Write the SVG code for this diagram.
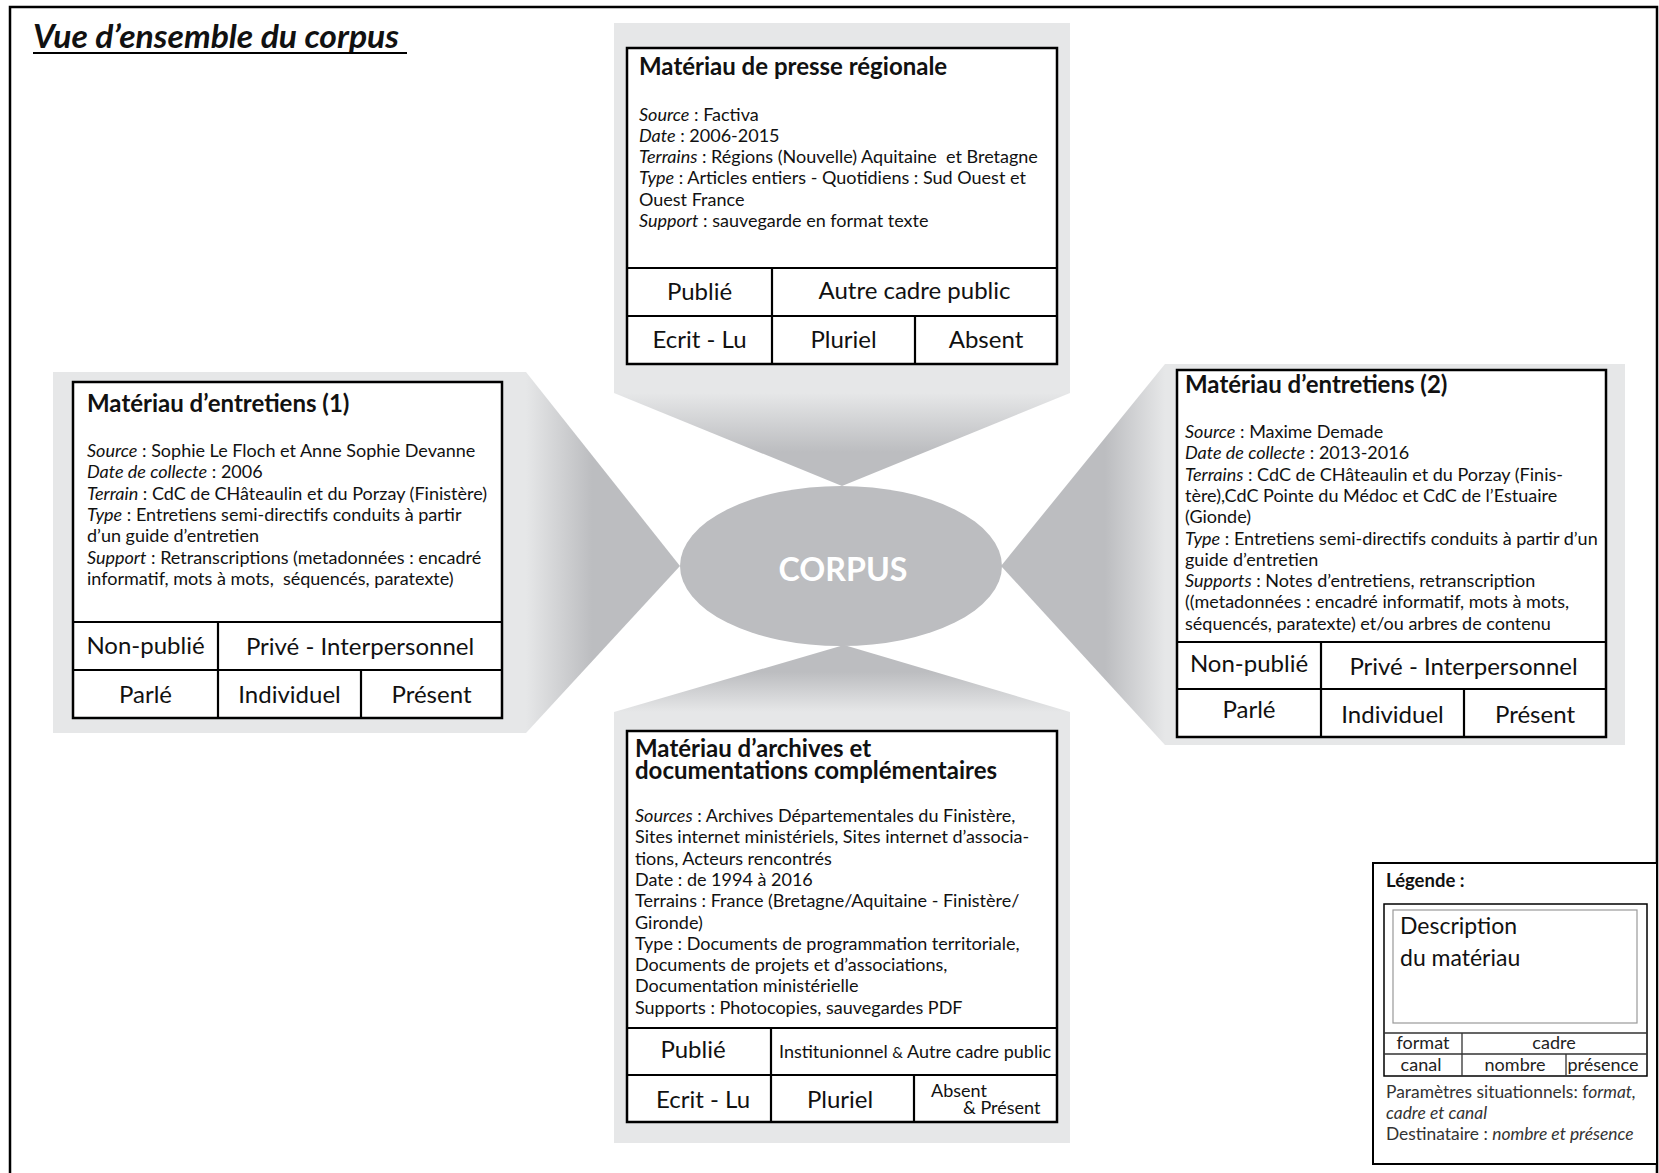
<svg xmlns="http://www.w3.org/2000/svg" width="1659" height="1173" viewBox="0 0 1659 1173">
<defs>
<linearGradient id="gTop" gradientUnits="userSpaceOnUse" x1="0" y1="393" x2="0" y2="452"><stop offset="0" stop-color="#e6e7e8"/><stop offset="1" stop-color="#bcbdc0"/></linearGradient>
<linearGradient id="gBot" gradientUnits="userSpaceOnUse" x1="0" y1="712" x2="0" y2="672"><stop offset="0" stop-color="#e6e7e8"/><stop offset="1" stop-color="#bcbdc0"/></linearGradient>
<linearGradient id="gLeft" gradientUnits="userSpaceOnUse" x1="526" y1="0" x2="592" y2="0"><stop offset="0" stop-color="#e6e7e8"/><stop offset="1" stop-color="#bcbdc0"/></linearGradient>
<linearGradient id="gRight" gradientUnits="userSpaceOnUse" x1="1165" y1="0" x2="1105" y2="0"><stop offset="0" stop-color="#e6e7e8"/><stop offset="1" stop-color="#bcbdc0"/></linearGradient>
<style>
.bg{fill:#e6e7e8}
.box{fill:#fff;stroke:#000;stroke-width:2.5}
.ln{stroke:#000;stroke-width:2.2;fill:none}
.thin{stroke:#333;stroke-width:1.3;fill:none}
text{font-family:Lato,"Open Sans","Liberation Sans",sans-serif;fill:#111}
.h{font-size:24px;font-weight:700}
.b{font-size:18px}
.c{font-size:24px;text-anchor:middle}
.i{font-style:italic}
.s{font-size:18px}
.lg{font-size:17.4px;fill:#333}
.lc{font-size:18px;text-anchor:middle;fill:#222}
</style>
</defs>
<rect width="1659" height="1173" fill="#fff"/>
<path d="M10 1173V7H1657V1173" fill="none" stroke="#000" stroke-width="2.5"/>
<g id="titre">
<text x="33" y="48" font-size="33" font-weight="700" font-style="italic" textLength="366" lengthAdjust="spacingAndGlyphs">Vue d’ensemble du corpus</text>
<line x1="33" y1="53" x2="407" y2="53" stroke="#000" stroke-width="2"/>
</g>

<g id="connectors">
<polygon points="614,393 1070,393 842,486" fill="url(#gTop)"/>
<polygon points="614,712 1070,712 844,645" fill="url(#gBot)"/>
<polygon points="526,372 526,733 680,566" fill="url(#gLeft)"/>
<polygon points="1165,364 1165,745 1001,566" fill="url(#gRight)"/>
</g>

<g id="corpus">
<ellipse cx="841" cy="566" rx="161" ry="80" fill="#bcbdc0"/>
<text x="843" y="581" font-size="33" font-weight="700" text-anchor="middle" style="fill:#fff" textLength="129" lengthAdjust="spacingAndGlyphs">CORPUS</text>
</g>

<g id="presse">
<rect class="bg" x="614" y="23" width="456" height="370"/>
<rect class="box" x="627" y="48" width="430" height="316"/>
<text class="h" x="639" y="75">Matériau de presse régionale</text>
<text class="b" x="639" y="120.5"><tspan class="i">Source</tspan> : Factiva</text>
<text class="b" x="639" y="141.8"><tspan class="i">Date</tspan> : 2006-2015</text>
<text class="b" x="639" y="163.1"><tspan class="i">Terrains</tspan> : Régions (Nouvelle) Aquitaine &#160;et Bretagne</text>
<text class="b" x="639" y="184.4"><tspan class="i">Type</tspan> : Articles entiers - Quotidiens : Sud Ouest et</text>
<text class="b" x="639" y="205.7">Ouest France</text>
<text class="b" x="639" y="227"><tspan class="i">Support</tspan> : sauvegarde en format texte</text>
<path class="ln" d="M627 268H1057M627 316H1057M772 268V364M915 316V364"/>
<text class="c" x="699.5" y="300">Publié</text>
<text class="c" x="914.5" y="299">Autre cadre public</text>
<text class="c" x="699.5" y="348">Ecrit - Lu</text>
<text class="c" x="843.5" y="348">Pluriel</text>
<text class="c" x="986" y="348">Absent</text>
</g>

<g id="entretiens1">
<rect class="bg" x="53" y="372" width="473" height="361"/>
<rect class="box" x="73" y="382" width="429" height="336"/>
<text class="h" x="87" y="412">Matériau d’entretiens (1)</text>
<text class="b" x="87" y="457"><tspan class="i">Source</tspan> : Sophie Le Floch et Anne Sophie Devanne</text>
<text class="b" x="87" y="478.3"><tspan class="i">Date de collecte</tspan> : 2006</text>
<text class="b" x="87" y="499.6"><tspan class="i">Terrain</tspan> : CdC de CHâteaulin et du Porzay (Finistère)</text>
<text class="b" x="87" y="520.9"><tspan class="i">Type</tspan> : Entretiens semi-directifs conduits à partir</text>
<text class="b" x="87" y="542.2">d’un guide d’entretien</text>
<text class="b" x="87" y="563.5"><tspan class="i">Support</tspan> : Retranscriptions (metadonnées : encadré</text>
<text class="b" x="87" y="584.8">informatif, mots à mots, &#160;séquencés, paratexte)</text>
<path class="ln" d="M73 622H502M73 670H502M218 622V718M361 670V718"/>
<text class="c" x="145.5" y="654">Non-publié</text>
<text class="c" x="360" y="655">Privé - Interpersonnel</text>
<text class="c" x="145.5" y="703">Parlé</text>
<text class="c" x="289.5" y="703">Individuel</text>
<text class="c" x="431.5" y="703">Présent</text>
</g>

<g id="entretiens2">
<rect class="bg" x="1165" y="364" width="460" height="381"/>
<rect class="box" x="1177" y="370" width="429" height="367"/>
<text class="h" x="1185" y="393">Matériau d’entretiens (2)</text>
<text class="b" x="1185" y="438"><tspan class="i">Source</tspan> : Maxime Demade</text>
<text class="b" x="1185" y="459.3"><tspan class="i">Date de collecte</tspan> : 2013-2016</text>
<text class="b" x="1185" y="480.6"><tspan class="i">Terrains</tspan> : CdC de CHâteaulin et du Porzay (Finis-</text>
<text class="b" x="1185" y="501.9">tère),CdC Pointe du Médoc et CdC de l’Estuaire</text>
<text class="b" x="1185" y="523.2">(Gionde)</text>
<text class="b" x="1185" y="544.5"><tspan class="i">Type</tspan> : Entretiens semi-directifs conduits à partir d’un</text>
<text class="b" x="1185" y="565.8">guide d’entretien</text>
<text class="b" x="1185" y="587.1"><tspan class="i">Supports</tspan> : Notes d’entretiens, retranscription</text>
<text class="b" x="1185" y="608.4">((metadonnées : encadré informatif, mots à mots,</text>
<text class="b" x="1185" y="629.7">séquencés, paratexte) et/ou arbres de contenu</text>
<path class="ln" d="M1177 642H1606M1177 689H1606M1321 642V737M1464 689V737"/>
<text class="c" x="1249" y="672">Non-publié</text>
<text class="c" x="1463.5" y="675">Privé - Interpersonnel</text>
<text class="c" x="1249" y="718">Parlé</text>
<text class="c" x="1392.5" y="723">Individuel</text>
<text class="c" x="1535" y="723">Présent</text>
</g>

<g id="archives">
<rect class="bg" x="614" y="712" width="456" height="431"/>
<rect class="box" x="627" y="731" width="430" height="391"/>
<text class="h" x="635" y="757">Matériau d’archives et</text>
<text class="h" x="635" y="779">documentations complémentaires</text>
<text class="b" x="635" y="822"><tspan class="i">Sources</tspan> : Archives Départementales du Finistère,</text>
<text class="b" x="635" y="843.3">Sites internet ministériels, Sites internet d’associa-</text>
<text class="b" x="635" y="864.6">tions, Acteurs rencontrés</text>
<text class="b" x="635" y="885.9">Date : de 1994 à 2016</text>
<text class="b" x="635" y="907.2">Terrains : France (Bretagne/Aquitaine - Finistère/</text>
<text class="b" x="635" y="928.5">Gironde)</text>
<text class="b" x="635" y="949.8">Type : Documents de programmation territoriale,</text>
<text class="b" x="635" y="971.1">Documents de projets et d’associations,</text>
<text class="b" x="635" y="992.4">Documentation ministérielle</text>
<text class="b" x="635" y="1013.7">Supports : Photocopies, sauvegardes PDF</text>
<path class="ln" d="M627 1028H1057M627 1075H1057M771 1028V1122M914 1075V1122"/>
<text class="c" x="693" y="1058">Publié</text>
<text class="s" x="779" y="1058">Institunionnel <tspan font-size="15">&amp;</tspan> Autre cadre public</text>
<text class="c" x="703" y="1108">Ecrit - Lu</text>
<text class="c" x="840" y="1108">Pluriel</text>
<text class="s" x="931" y="1097">Absent</text>
<text class="s" x="963" y="1114">&amp; Présent</text>
</g>

<g id="legende">
<rect x="1373" y="863" width="284" height="301" fill="#fff" stroke="#000" stroke-width="2"/>
<text x="1386" y="887" font-size="18.5" font-weight="700">Légende :</text>
<rect x="1384" y="904" width="263" height="172" fill="#fff" stroke="#000" stroke-width="1.5"/>
<rect x="1393" y="910" width="244" height="113" fill="none" stroke="#999" stroke-width="1.2"/>
<text x="1400" y="934" font-size="23" fill="#222">Description</text>
<text x="1400" y="966" font-size="23" fill="#222">du matériau</text>
<path class="thin" d="M1384 1033H1647M1384 1054H1647M1462 1033V1076M1566 1054V1076"/>
<text class="lc" x="1423" y="1049">format</text>
<text class="lc" x="1554" y="1049">cadre</text>
<text class="lc" x="1421" y="1071">canal</text>
<text class="lc" x="1515" y="1071">nombre</text>
<text class="lc" x="1603" y="1071">présence</text>
<text class="lg" x="1386" y="1098">Paramètres situationnels: f<tspan class="i">ormat,</tspan></text>
<text class="lg i" x="1386" y="1119">cadre et canal</text>
<text class="lg" x="1386" y="1140">Destinataire : <tspan class="i">nombre et présence</tspan></text>
</g>
</svg>
